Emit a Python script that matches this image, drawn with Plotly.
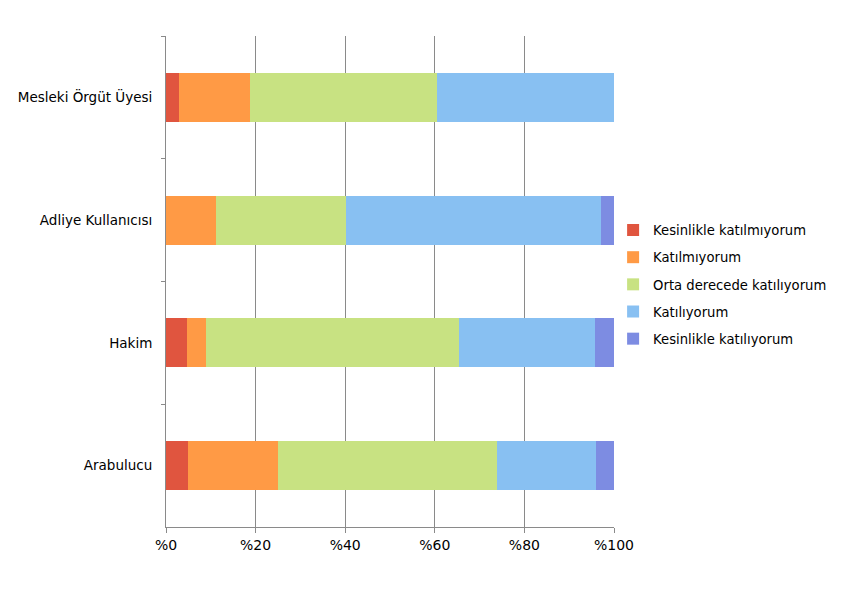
import plotly.graph_objects as go

categories = ["Mesleki Örgüt Üyesi", "Adliye Kullanıcısı", "Hakim", "Arabulucu"]
series_names = ["Kesinlikle katılmıyorum", "Katılmıyorum", "Orta derecede katılıyorum",
                "Katılıyorum", "Kesinlikle katılıyorum"]
kesinlikle_katilmiyorum = [2.9, 0.0, 4.6, 4.8]
katilmiyorum = [15.8, 11.1, 4.3, 20.3]
orta = [41.9, 29.1, 56.4, 48.7]
katiliyorum = [39.4, 56.8, 30.5, 22.2]
kesinlikle_katiliyorum = [0.0, 3.0, 4.2, 4.0]
tick_vals = [0, 20, 40, 60, 80, 100]
tick_text = ["%0", "%20", "%40", "%60", "%80", "%100"]

colors = ["#E0553F", "#FF9A45", "#C8E282", "#88C0F2", "#7D8CE2"]
values = [kesinlikle_katilmiyorum, katilmiyorum, orta, katiliyorum, kesinlikle_katiliyorum]

fig = go.Figure()
for i, (name, vals, col) in enumerate(zip(series_names, values, colors)):
    fig.add_trace(go.Bar(
        y=categories, x=vals, name=name, orientation="h",
        marker=dict(color=col, line=dict(width=0)),
        legendgroup=f"g{i}",
    ))

font_family = "DejaVu Sans, Verdana, sans-serif"
fig.update_layout(
    barmode="stack",
    bargap=0.6,
    width=857, height=613,
    margin=dict(l=166, r=243, t=36, b=86),
    paper_bgcolor="white", plot_bgcolor="white",
    font=dict(family=font_family, size=13, color="black"),
    legend=dict(x=0.998, y=0.494, xanchor="left", yanchor="middle",
                traceorder="grouped", tracegroupgap=7,
                bgcolor="rgba(0,0,0,0)",
                font=dict(size=13.2), itemwidth=30),
    xaxis=dict(range=[0, 100], tickvals=tick_vals, ticktext=tick_text,
               showgrid=True, gridcolor="#8a8a8a", gridwidth=1,
               showline=True, linecolor="#8a8a8a", ticks="outside",
               ticklen=5, tickcolor="#8a8a8a", zeroline=False,
               tickfont=dict(size=14)),
    yaxis=dict(autorange="reversed", showline=True, linecolor="#8a8a8a",
               ticks="outside", ticklen=4, tickcolor="#8a8a8a",
               tickson="boundaries", ticklabelstandoff=10,
               tickfont=dict(size=13.5)),
)

fig.write_html("out.html")
